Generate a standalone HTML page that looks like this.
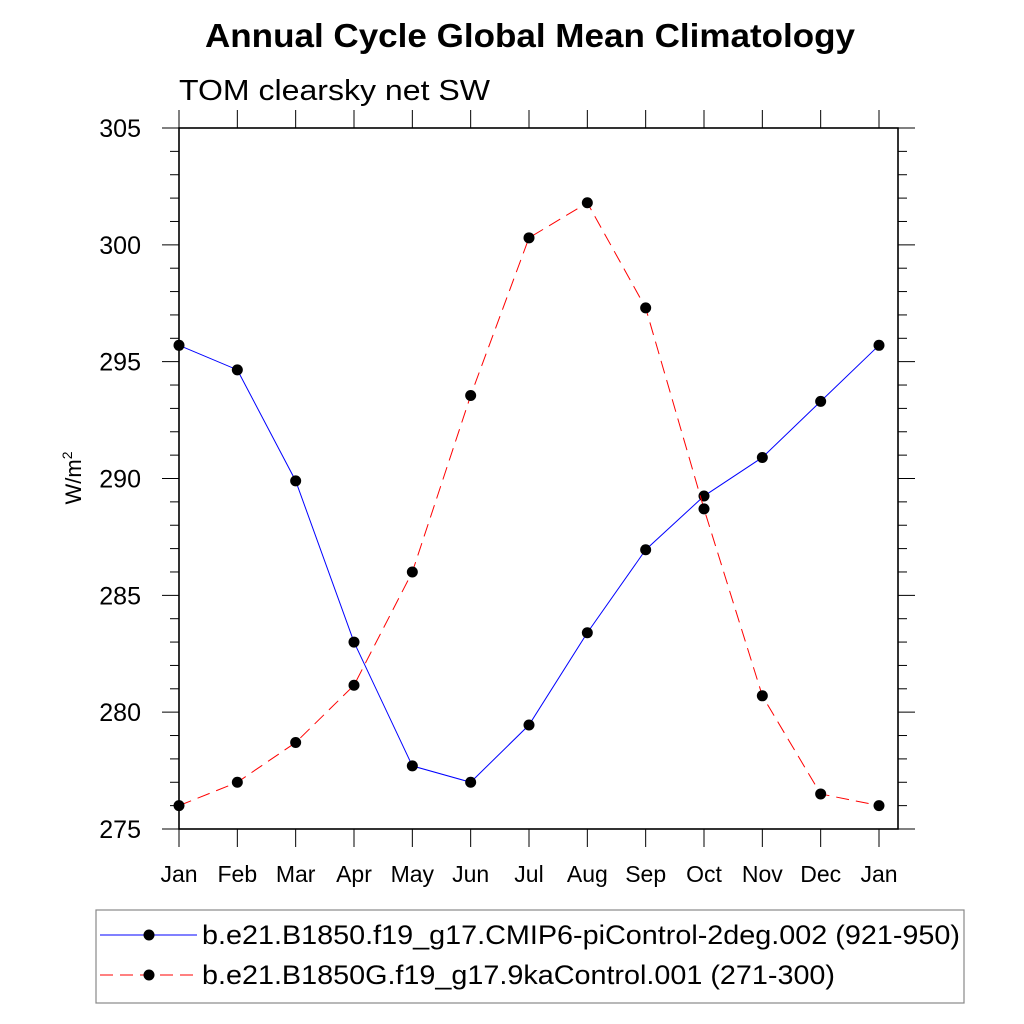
<!DOCTYPE html>
<html><head><meta charset="utf-8"><style>
body{margin:0;background:#fff}
svg{display:block;font-family:"Liberation Sans",sans-serif}
</style></head><body>
<svg id="chart" width="1024" height="1024" viewBox="0 0 1024 1024">
<text x="205" y="47" font-size="33" font-weight="bold" textLength="650" lengthAdjust="spacingAndGlyphs">Annual Cycle Global Mean Climatology</text>
<text x="179" y="100" font-size="29" textLength="311" lengthAdjust="spacingAndGlyphs">TOM clearsky net SW</text>
<text transform="translate(81,478) rotate(-90)" text-anchor="middle" font-size="22">W/m<tspan dy="-9" font-size="14">2</tspan></text>
<g id="axes"></g>
<g id="series"></g>
<g>
<rect x="96" y="910" width="868" height="93" fill="none" stroke="#888" stroke-width="1.2"/>
<line x1="100" y1="935" x2="197" y2="935" stroke="#0000ff" stroke-width="1"/>
<circle cx="149" cy="935" r="5.5" fill="#000"/>
<text x="202" y="944" font-size="27" textLength="758" lengthAdjust="spacingAndGlyphs">b.e21.B1850.f19_g17.CMIP6-piControl-2deg.002 (921-950)</text>
<line x1="100" y1="975" x2="197" y2="975" stroke="#ff0000" stroke-width="1" stroke-dasharray="13,7"/>
<circle cx="149" cy="975" r="5.5" fill="#000"/>
<text x="202" y="984" font-size="27" textLength="633" lengthAdjust="spacingAndGlyphs">b.e21.B1850G.f19_g17.9kaControl.001 (271-300)</text>
</g>
</svg>
<script>
const months = ["Jan","Feb","Mar","Apr","May","Jun","Jul","Aug","Sep","Oct","Nov","Dec","Jan"];
const piControl = [295.7,294.65,289.9,283.0,277.7,277.0,279.45,283.4,286.95,289.25,290.9,293.3,295.7];
const ka9Control = [276.0,277.0,278.7,281.15,286.0,293.55,300.3,301.8,297.3,288.7,280.7,276.5,276.0];
const yTicks = [275,280,285,290,295,300,305];

const NS="http://www.w3.org/2000/svg";
const L=179,R=898,T=128,B=829,ymin=275,ymax=305;
const xs=i=>179+i*(700/12);
const ys=v=>B-(v-ymin)/(ymax-ymin)*(B-T);
function mk(tag,attrs,parent){const e=document.createElementNS(NS,tag);for(const k in attrs)e.setAttribute(k,attrs[k]);parent.appendChild(e);return e;}
const ax=document.getElementById('axes');
const frame=mk('rect',{x:L,y:T,width:R-L,height:B-T,fill:'none',stroke:'#000','stroke-width':1.6},ax);


for(let v=ymin;v<=ymax;v++){
  const major=(v%5===0);const len=major?17:9;const y=ys(v);
  mk('line',{x1:L-len,y1:y,x2:L,y2:y,stroke:'#000','stroke-width':1},ax);
  mk('line',{x1:R,y1:y,x2:R+len,y2:y,stroke:'#000','stroke-width':1},ax);
}
yTicks.forEach(v=>{
  const t=mk('text',{x:141,y:ys(v)+9,'text-anchor':'end','font-size':25},ax);
  
  
  t.textContent=v;
});
months.forEach((m,i)=>{
  const x=xs(i);
  mk('line',{x1:x,y1:T-18,x2:x,y2:T,stroke:'#000','stroke-width':1},ax);
  mk('line',{x1:x,y1:B,x2:x,y2:B+18,stroke:'#000','stroke-width':1},ax);
  const t=mk('text',{x:x,y:882,'text-anchor':'middle','font-size':23},ax);
  
  
  t.textContent=m;
});
const sg=document.getElementById('series');
function series(vals,color,dash,name){
  const pts=vals.map((v,i)=>xs(i)+','+ys(v)).join(' ');
  const pl=mk('polyline',{points:pts,fill:'none',stroke:color,'stroke-width':1,'stroke-dasharray':dash},sg);
  
  
  vals.forEach((v,i)=>{
    const c=mk('circle',{cx:xs(i),cy:ys(v),r:5.5,fill:'#000'},sg);
    
    
  });
}
series(piControl,'#0000ff','none','picontrol');
series(ka9Control,'#ff0000','13,7','ka9control');
</script>
</body></html>
